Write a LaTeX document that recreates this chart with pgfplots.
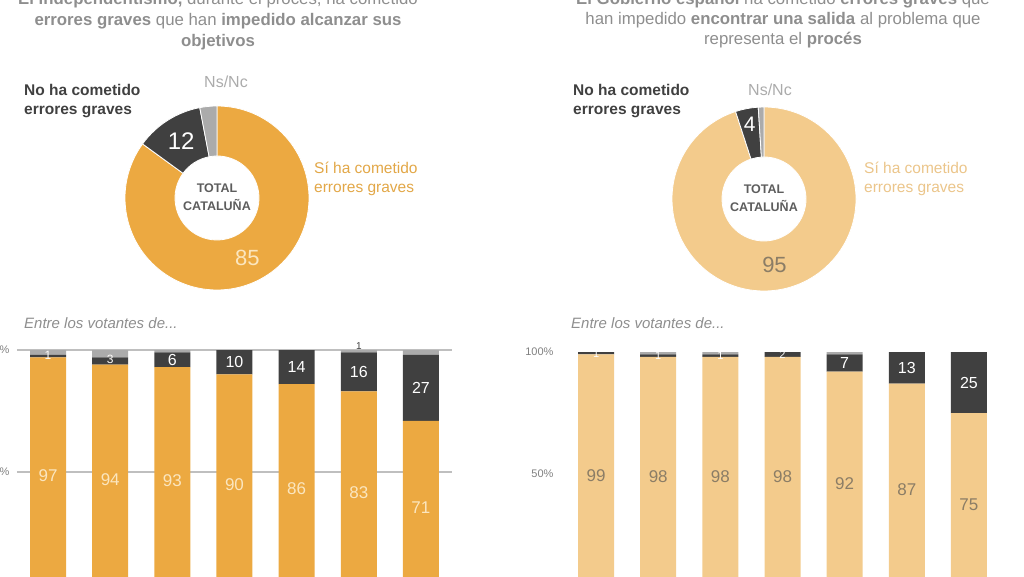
\documentclass[border=0pt]{standalone}
\usepackage{fontspec}
\setmainfont{Liberation Sans}
\usepackage{pgfplots}
\usepackage{pgfplotstable}
\pgfplotsset{compat=1.18}
\definecolor{orL}{HTML}{ECA941}
\definecolor{orR}{HTML}{F3CB8C}
\definecolor{dk}{HTML}{404040}
\definecolor{gr}{HTML}{ABABAB}
\definecolor{ttl}{HTML}{8E8E8E}
\definecolor{lblL}{HTML}{FBE6BF}
\definecolor{lblR}{HTML}{8B7D66}
\definecolor{txtorL}{HTML}{E2A747}
\definecolor{txtorR}{HTML}{EBC58A}
\definecolor{grid}{HTML}{BDBDBD}

\pgfplotstableread{
x si no ns
0 97 1 2
1 94 3 3
2 93 6 1
3 90 10 0
4 86 14 0
5 83 16 1
6 71 27 2
}\leftdata
\pgfplotstableread{
x si no ns
0 99 1 0
1 98 1 1
2 98 1 1
3 98 2 0
4 92 7 1
5 87 13 0
6 75 25 0
}\rightdata

% donut segment: colour, from %, to %, outer r, inner r
\newcommand{\seg}[5]{%
  \fill[#1, draw=white, line width=0.8pt, shift={(axis cs:0,0)}]
    ({90-3.6*#2}:#4pt) arc[start angle={90-3.6*#2}, end angle={90-3.6*#3}, radius=#4pt]
    -- ({90-3.6*#3}:#5pt) arc[start angle={90-3.6*#3}, end angle={90-3.6*#2}, radius=#5pt] -- cycle;}
% label in segment: from, to, radius, text, style
\newcommand{\seglabel}[5]{%
  \path (axis cs:0,0) ++({90-1.8*(#1+#2)}:#3pt) node[#5] {#4};}

\newcommand{\fs}[2]{\fontsize{#1}{#2}\selectfont}

\pgfplotsset{
  barax/.style={
    scale only axis, width=435pt, height=244pt,
    xmin=-0.5, xmax=6.5, ymin=0, ymax=100,
    axis line style={draw=none}, tick style={draw=none}, major tick length=0pt,
    xtick=\empty,
    /pgf/number format/assume math mode=true,
  },
  lblax/.style={barax, hide axis, clip=false, restrict y to domain=0:110},
}

\begin{document}
\begin{tikzpicture}[x=1pt,y=1pt]
\useasboundingbox (0,0) rectangle (1024,576);
\clip (0,0) rectangle (1024,576);

% ---------- titles ----------
\node[align=center, text=ttl, font=\fs{16.8}{21}, inner sep=0pt] at (218,555)
 {\textbf{El independentismo,} durante el procés, ha cometido\\
  \textbf{errores graves} que han \textbf{impedido alcanzar sus}\\
  \textbf{objetivos}};
\node[align=center, text=ttl, font=\fs{16.8}{20}, inner sep=0pt] at (783,556)
 {\textbf{El Gobierno español} ha cometido \textbf{errores graves} que\\
  han impedido \textbf{encontrar una salida} al problema que\\
  representa el \textbf{procés}};

% ---------- donut labels ----------
\node[anchor=west, align=left, text=dk, font=\bfseries\fs{15.5}{19}, inner sep=0pt] at (24,475) {No ha cometido\\errores graves};
\node[text=gr, font=\fs{16}{18}, inner sep=0pt] at (226,494) {Ns/Nc};
\node[anchor=west, align=left, text=txtorL, font=\fs{15.5}{19}, inner sep=0pt] at (314,397) {Sí ha cometido\\errores graves};

\node[anchor=west, align=left, text=dk, font=\bfseries\fs{15.5}{19}, inner sep=0pt] at (573,475) {No ha cometido\\errores graves};
\node[text=gr, font=\fs{16}{18}, inner sep=0pt] at (770,486) {Ns/Nc};
\node[anchor=west, align=left, text=txtorR, font=\fs{15.5}{19}, inner sep=0pt] at (864,397) {Sí ha cometido\\errores graves};

% ---------- left donut ----------
\begin{axis}[at={(217pt,378pt)}, anchor=center, hide axis, scale only axis,
  width=200pt, height=200pt, xmin=-1, xmax=1, ymin=-1, ymax=1, clip=false]
  \seg{orL}{0}{85}{92}{42}
  \seg{dk}{85}{97}{92}{42}
  \seg{gr}{97}{100}{92}{42}
  \seglabel{85}{97}{67}{12}{text=white, font=\fs{24}{26}}
  \seglabel{0}{85}{67}{85}{text=lblL, font=\fs{22}{24}}
  \node[align=center, text=dk!85, font=\bfseries\fs{12.5}{18}] at (axis cs:0,0.01) {TOTAL\\CATALUÑA};
\end{axis}

% ---------- right donut ----------
\begin{axis}[at={(764pt,377pt)}, anchor=center, hide axis, scale only axis,
  width=200pt, height=200pt, xmin=-1, xmax=1, ymin=-1, ymax=1, clip=false]
  \seg{orR}{0}{95}{92}{42}
  \seg{dk}{95}{99}{92}{42}
  \seg{gr}{99}{100}{92}{42}
  \seglabel{95}{99}{76}{4}{text=white, font=\fs{21}{22}}
  \seglabel{0}{95}{67}{95}{text=lblR, font=\fs{22}{24}}
  \node[align=center, text=dk!85, font=\bfseries\fs{12.5}{18}] at (axis cs:0,0.01) {TOTAL\\CATALUÑA};
\end{axis}

% ---------- subtitles ----------
\node[anchor=west, text=ttl, font=\itshape\fs{15}{17}, inner sep=0pt] at (24,253) {Entre los votantes de...};
\node[anchor=west, text=ttl, font=\itshape\fs{15}{17}, inner sep=0pt] at (571,253) {Entre los votantes de...};

% ---------- left bars ----------
\begin{axis}[barax, at={(17pt,-18pt)}, anchor=south west,
  ybar stacked, bar width=36pt,
  ytick={50,100}, yticklabels={50\%,100\%},
  yticklabel style={text=gray, font=\fs{11}{12}, xshift=-4pt},
  ymajorgrids, grid style={grid, line width=1.3pt}]
  \addplot[fill=orL, draw=none] table[x=x, y=si] {\leftdata};
  \addplot[fill=dk, draw=none] table[x=x, y=no] {\leftdata};
  \addplot[fill=gr, draw=none] table[x=x, y=ns] {\leftdata};
\end{axis}
\begin{axis}[lblax, at={(17pt,-18pt)}, anchor=south west]
  \addplot[draw=none, mark=none, nodes near coords, point meta=explicit symbolic,
    nodes near coords style={anchor=center, text=lblL, font=\fs{17}{18}}]
    table[x=x, y expr=\thisrow{si}/2, meta=si] {\leftdata};
  \addplot[draw=none, mark=none, nodes near coords, point meta=explicit symbolic,
    nodes near coords style={anchor=center, text=white, font=\fs{16}{18}}]
    table[x=x, y expr={\thisrow{no}>3 ? \thisrow{si}+\thisrow{no}/2 : -50}, meta=no] {\leftdata};
  \addplot[draw=none, mark=none, nodes near coords, point meta=explicit symbolic,
    nodes near coords style={anchor=center, text=white!90!lblL, font=\fs{12}{13}}]
    table[x=x, y expr={\thisrow{no}<4 ? \thisrow{si}+\thisrow{no}/2+0.5 : -50}, meta=no] {\leftdata};
  \addplot[draw=none, mark=none, nodes near coords, point meta=explicit symbolic,
    nodes near coords style={anchor=center, text=dk, font=\fs{10}{11}}]
    table[x=x, y=y, meta=l] {
x y l
5 101.8 1
};
\end{axis}

% ---------- right bars ----------
\begin{axis}[barax, at={(565pt,-20pt)}, anchor=south west,
  ybar stacked, bar width=36pt,
  ytick={50,100}, yticklabels={50\%,100\%},
  yticklabel style={text=gray, font=\fs{11}{12}, xshift=-8pt}]
  \addplot[fill=orR, draw=none] table[x=x, y=si] {\rightdata};
  \addplot[fill=dk, draw=none] table[x=x, y=no] {\rightdata};
  \addplot[fill=gr, draw=none] table[x=x, y=ns] {\rightdata};
\end{axis}
\begin{axis}[lblax, at={(565pt,-20pt)}, anchor=south west]
  \addplot[draw=none, mark=none, nodes near coords, point meta=explicit symbolic,
    nodes near coords style={anchor=center, text=lblR, font=\fs{17}{18}}]
    table[x=x, y expr=\thisrow{si}/2, meta=si] {\rightdata};
  \addplot[draw=none, mark=none, nodes near coords, point meta=explicit symbolic,
    nodes near coords style={anchor=center, text=white, font=\fs{16}{18}}]
    table[x=x, y expr={\thisrow{no}>3 ? \thisrow{si}+\thisrow{no}/2 : -50}, meta=no] {\rightdata};
  \addplot[draw=none, mark=none, nodes near coords, point meta=explicit symbolic,
    nodes near coords style={anchor=center, text=white, font=\fs{11}{12}}]
    table[x=x, y expr={\thisrow{no}<4 ? \thisrow{si}+\thisrow{no}/2 : -50}, meta=no] {\rightdata};
\end{axis}
\end{tikzpicture}
\end{document}
